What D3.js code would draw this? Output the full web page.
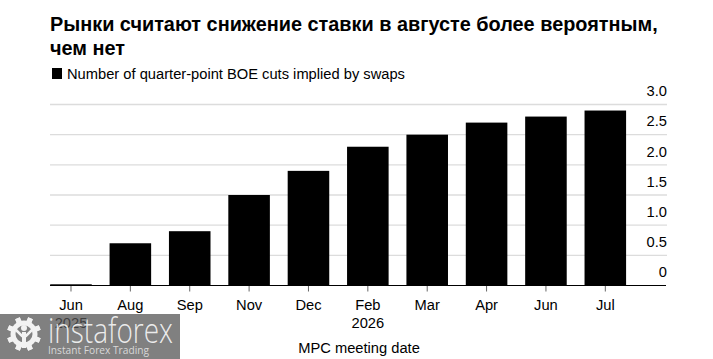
<!DOCTYPE html>
<html>
<head>
<meta charset="utf-8">
<script src="https://cdn.jsdelivr.net/npm/d3@7"></script>
<style>
  html, body { margin: 0; padding: 0; background: #fff; overflow: hidden; }
  text { font-family: "Liberation Sans", Arial, sans-serif; fill: #000; }
</style>
</head>
<body>
<div id="chart"></div>
<script>
var titleLines = ["Рынки считают снижение ставки в августе более вероятным,", "чем нет"]
var legendLabel = "Number of quarter-point BOE cuts implied by swaps"
var xTitle = "MPC meeting date"
var months = ["Jun", "Aug", "Sep", "Nov", "Dec", "Feb", "Mar", "Apr", "Jun", "Jul"]
var keys = ["Jun25", "Aug25", "Sep25", "Nov25", "Dec25", "Feb26", "Mar26", "Apr26", "Jun26", "Jul26"]
var cuts = [0.02, 0.7, 0.9, 1.5, 1.9, 2.3, 2.5, 2.7, 2.8, 2.9]
var yTicks = [0, 0.5, 1, 1.5, 2, 2.5, 3]
var yearKeys = ["Jun25", "Feb26"]
var yearLabels = ["2025", "2026"]

var figw = 713
var figh = 359
var gridLeft = 50
var gridRight = 667
var labelSize = 14.7

var svg = d3.select("#chart")
  .append("svg")
    .attr("width", figw)
    .attr("height", figh)

var x = d3.scaleBand()
  .domain(keys)
  .range([41.3, 635])
  .paddingInner(0.3)
  .paddingOuter(0.15)

var y = d3.scaleLinear()
  .domain([0, 3])
  .range([285.5, 104.5])

// title and legend
svg.append("g").selectAll("text")
  .data(titleLines)
  .enter()
  .append("text")
    .attr("x", 50)
    .attr("y", function (d, i) { return 31 + i * 24 })
    .attr("font-size", 19.86)
    .attr("font-weight", "bold")
    .text(function (d) { return d })

svg.append("rect")
  .attr("x", 52)
  .attr("y", 68)
  .attr("width", 10)
  .attr("height", 11)
  .attr("fill", "#000")

svg.append("text")
  .attr("x", 67)
  .attr("y", 79)
  .attr("font-size", labelSize)
  .text(legendLabel)

// gridlines
svg.append("g").selectAll("line")
  .data(yTicks.filter(function (d) { return d > 0 }))
  .enter()
  .append("line")
    .attr("x1", gridLeft)
    .attr("x2", gridRight)
    .attr("y1", function (d) { return y(d) })
    .attr("y2", function (d) { return y(d) })
    .attr("stroke", "#dcdcdc")
    .attr("stroke-width", 1.4)

// y axis labels sit above their gridlines
var yAxis = d3.axisRight(y)
  .tickValues(yTicks)
  .tickSize(0)
  .tickPadding(0)
  .tickFormat(function (d) { return d === 0 ? "0" : d3.format(".1f")(d) })

var yg = svg.append("g")
  .attr("transform", "translate(" + gridRight + ",0)")
  .call(yAxis)
yg.select(".domain").remove()
yg.selectAll("text")
  .attr("x", 0)
  .attr("dy", "-0.6em")
  .attr("text-anchor", "end")
  .attr("font-family", "'Liberation Sans', Arial, sans-serif")
  .attr("font-size", labelSize)

// bars
svg.append("g").selectAll("rect")
  .data(cuts)
  .enter()
  .append("rect")
    .attr("x", function (d, i) { return x(keys[i]) })
    .attr("y", function (d) { return y(d) })
    .attr("width", x.bandwidth())
    .attr("height", function (d) { return y(0) - y(d) })
    .attr("fill", "#000")

// x axis
var xAxis = d3.axisBottom(x)
  .tickSize(6)
  .tickPadding(8)
  .tickFormat(function (d, i) { return months[i] })

var xg = svg.append("g")
  .attr("transform", "translate(0," + y(0) + ")")
  .call(xAxis)
xg.select(".domain").remove()
xg.selectAll("line").attr("stroke", "#666")
xg.selectAll("text")
  .attr("font-family", "'Liberation Sans', Arial, sans-serif")
  .attr("font-size", labelSize)

svg.append("line")
  .attr("x1", gridLeft)
  .attr("x2", gridRight - 1)
  .attr("y1", y(0))
  .attr("y2", y(0))
  .attr("stroke", "#000")
  .attr("stroke-width", 1.2)

svg.append("g").selectAll("text")
  .data(yearLabels)
  .enter()
  .append("text")
    .attr("x", function (d, i) { return x(yearKeys[i]) + x.bandwidth() / 2 })
    .attr("y", 328)
    .attr("text-anchor", "middle")
    .attr("font-size", labelSize)
    .text(function (d) { return d })

svg.append("text")
  .attr("x", 359)
  .attr("y", 353)
  .attr("text-anchor", "middle")
  .attr("font-size", labelSize)
  .text(xTitle)

// watermark, the 2025 label shows through it
var wmGrey = "#808080"
var wm = svg.append("g")
wm.append("rect")
  .attr("x", 0)
  .attr("y", 314)
  .attr("width", 180)
  .attr("height", 45)
  .attr("fill", "#555")
  .attr("fill-opacity", 0.75)

var teeth = d3.range(8).map(function (d) { return d * 45 })
var gear = wm.append("g").attr("transform", "translate(24,334)")
gear.selectAll("rect")
  .data(teeth)
  .enter()
  .append("rect")
    .attr("x", -2.5)
    .attr("y", -17)
    .attr("width", 5)
    .attr("height", 34)
    .attr("fill", "#f2f2f2")
    .attr("transform", function (d) { return "rotate(" + (d + 22.5) + ")" })
gear.append("circle").attr("r", 13.5).attr("fill", "#f2f2f2")
gear.append("circle").attr("r", 8.5).attr("fill", wmGrey)
gear.append("rect").attr("x", -2).attr("y", -2).attr("width", 4).attr("height", 16).attr("fill", "#f2f2f2")
gear.append("circle").attr("cy", -6).attr("r", 3).attr("fill", "#f2f2f2")
gear.append("path")
  .attr("d", d3.line()([[-10, -6], [-2, 2], [2, 2], [10, -6]]))
  .attr("fill", "none")
  .attr("stroke", "#f2f2f2")
  .attr("stroke-width", 2.5)

wm.append("text")
  .attr("x", 48)
  .attr("y", 343)
  .attr("font-size", 35)
  .attr("textLength", 125)
  .attr("lengthAdjust", "spacingAndGlyphs")
  .style("fill", "#fff")
  .style("fill-opacity", 0.85)
  .style("font-family", "'Open Sans', sans-serif")
  .style("font-weight", 300)
  .text("instaforex")

wm.append("text")
  .attr("x", 48)
  .attr("y", 354)
  .attr("font-size", 10.5)
  .attr("textLength", 101)
  .attr("lengthAdjust", "spacingAndGlyphs")
  .style("fill", "#d8d8d8")
  .style("font-family", "'Open Sans', sans-serif")
  .text("Instant Forex Trading")
</script>
</body>
</html>
